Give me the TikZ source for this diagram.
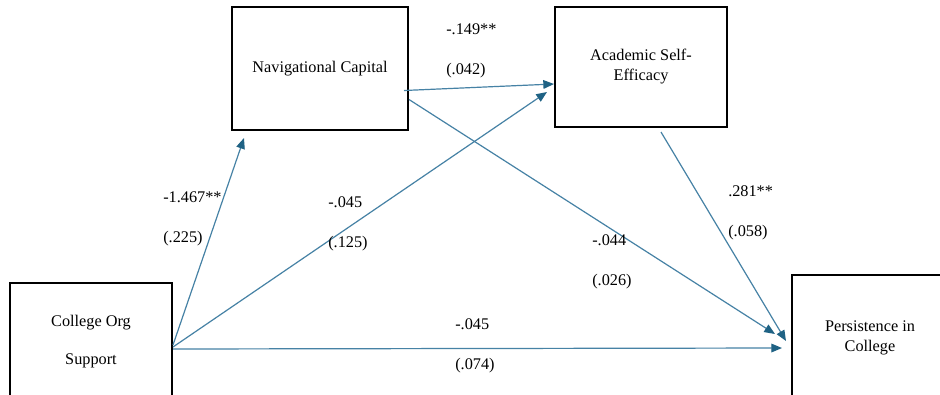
\documentclass[tikz,border=0pt]{standalone}
\usepackage{fontspec}
\setmainfont{Liberation Serif}
\newfontfamily\figfont{Liberation Serif}
\usetikzlibrary{arrows.meta}
\usetikzlibrary{positioning}
\usetikzlibrary{calc}
\definecolor{pathblue}{RGB}{70,130,165}
\definecolor{headblue}{RGB}{31,98,132}

\tikzset{
  varbox/.style={draw=black, line width=1.5pt, rectangle, align=center,
    font=\figfont\fontsize{12.2}{15}\selectfont},
  effect/.style={draw=pathblue, line width=0.9pt,
    -{Triangle[length=8pt,width=6.5pt,fill=headblue,color=headblue]}},
  coef/.style={anchor=west, align=left, inner sep=0pt,
    font=\figfont\fontsize{12.2}{30}\selectfont}
}

\begin{document}
\begin{tikzpicture}[x=0.75pt,y=-0.75pt]
			\clip (0,0) rectangle (940,394);
			\fill[white] (0,0) rectangle (940,394);
			
			% Variables
			\node[varbox, minimum width=132pt, minimum height=92.25pt] (nav) at (320,68.5) {Navigational Capital};
			\node[varbox, minimum width=129pt, minimum height=90pt] (acad) at (641,67) {Academic Self-\\Efficacy};
			\node[varbox, minimum width=121.5pt, minimum height=87.75pt,
			  font=\figfont\fontsize{12.2}{28.5}\selectfont] (org) at (91,341.5) {College Org\\Support};
			\node[varbox, minimum width=117pt, minimum height=94.5pt] (pers) at (870,338) {Persistence in\\College};
			
			% Paths
			\draw[effect] ($(org.east)+(0,3.5)$) -- ($(nav.south)+(-76,7)$);
			\draw[effect] ($(org.east)+(0,5.5)$) -- ($(acad.west)+(-7,25)$);
			\draw[effect] ($(org.east)+(0,7.5)$) -- ($(pers.west)+(-9,10)$);
			\draw[effect] ($(nav.east)+(-5,22)$) -- ($(acad.west)+(0,17)$);
			\draw[effect] ($(nav.east)+(0,31)$) -- ($(pers.west)+(-16,-4)$);
			\draw[effect] ($(acad.south)+(20,4)$) -- ($(pers.west)+(-5,3)$);
			
			% Coefficients
			\node[coef] (c-nav-acad) at (446,51) {-.149**\\(.042)};
			\node[coef] (c-org-nav) at (163,219) {-1.467**\\(.225)};
			\node[coef] (c-org-acad) at (328,224) {-.045\\(.125)};
			\node[coef] (c-nav-pers) at (592,262) {-.044\\(.026)};
			\node[coef] (c-acad-pers) at (728,212.5) {.281**\\(.058)};
			\node[coef] (c-org-pers) at (455,346) {-.045\\(.074)};
		\end{tikzpicture}
\end{document}
